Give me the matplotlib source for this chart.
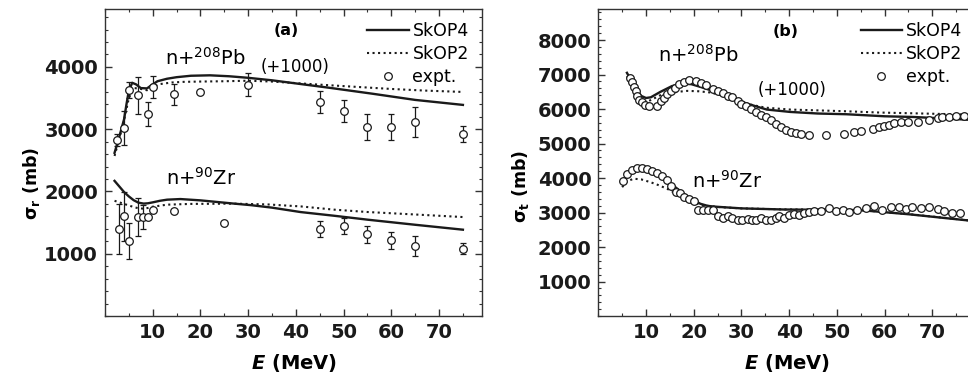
import numpy as np
import matplotlib
matplotlib.use("Agg")
import matplotlib.pyplot as plt
from matplotlib.ticker import MultipleLocator
from matplotlib.lines import Line2D

plt.rcParams['font.family'] = 'DejaVu Sans'
plt.rcParams['mathtext.fontset'] = 'custom'
plt.rcParams['mathtext.rm'] = 'DejaVu Sans'
plt.rcParams['mathtext.bf'] = 'DejaVu Sans:weight=bold'
plt.rcParams['mathtext.it'] = 'DejaVu Sans:style=italic:weight=bold'

PB_SHIFT = 1000  # Pb curves are shifted up by 1000 mb

# ---- (a) reaction cross section ----
a_pb_E = [2.5, 4, 5, 7, 9, 10, 14.5, 20, 30, 45, 50, 55, 60, 65, 75]
a_pb_sig = [1826, 2019, 2625, 2545, 2244, 2678, 2561, 2593, 2717, 2432, 2293, 2030, 2041, 2116, 1923]
a_pb_err = [100, 280, 130, 300, 190, 175, 170, 0, 190, 180, 180, 210, 210, 245, 130]

a_zr_E = [3, 4, 5, 7, 8, 9, 10, 14.5, 25, 45, 50, 55, 60, 65, 75]
a_zr_sig = [1395, 1600, 1209, 1590, 1590, 1590, 1710, 1690, 1497, 1402, 1444, 1310, 1214, 1128, 1080]
a_zr_err = [400, 390, 290, 300, 190, 0, 0, 0, 0, 130, 130, 135, 135, 160, 85]

a_pb4_E = [2, 3, 4, 4.5, 5, 5.7, 6.5, 7.5, 8.8, 10, 11, 13, 15, 18, 22, 26, 30, 35, 40, 47, 56, 65, 75]
a_pb4 = [1620, 1880, 2160, 2400, 2620, 2745, 2720, 2660, 2655, 2720, 2770, 2810, 2835, 2858, 2865,
         2850, 2825, 2785, 2735, 2665, 2570, 2470, 2390]
a_pb2_E = [2, 3, 4, 5, 6, 7, 8.8, 10, 11.6, 14, 16.5, 20, 25, 30, 35, 39, 45, 53, 60, 67, 75]
a_pb2 = [1570, 1850, 2150, 2500, 2660, 2655, 2625, 2680, 2725, 2750, 2760, 2765, 2770, 2778,
         2765, 2745, 2715, 2678, 2646, 2620, 2598]

a_zr4_E = [2, 3, 4, 5, 6, 7, 8.1, 9, 10, 11.5, 13, 15.8, 20, 27, 30.6, 35, 41, 48, 55, 65, 75]
a_zr4 = [2170, 2080, 1990, 1920, 1860, 1820, 1805, 1810, 1825, 1850, 1868, 1878, 1857, 1805,
         1780, 1740, 1669, 1610, 1547, 1465, 1386]
a_zr2_E = [2, 4, 6, 7, 8.1, 9, 10, 13, 18, 27, 34, 41, 48, 55, 65, 75]
a_zr2 = [1850, 1800, 1750, 1730, 1724, 1735, 1755, 1788, 1800, 1804, 1792, 1760, 1708, 1670, 1630, 1589]

# ---- (b) total cross section ----
b_pb_E = [6.6, 7.0, 7.4, 7.8, 8.2, 8.6, 9.1, 9.7, 10.6, 12.3, 13.1, 13.8, 14.5, 15.2, 16.1, 17.0,
          18.0, 19.1, 20.5, 21.5, 22.6, 24.0, 25.0, 26.1, 27.1, 28.1, 29.2, 29.9, 30.9, 32.0,
          33.0, 34.1, 35.1, 36.2, 37.2, 38.3, 39.3, 40.4, 41.4, 42.4, 44.2, 47.7, 51.5, 53.5,
          55.0, 57.5, 58.8, 59.9, 60.9, 62.0, 63.4, 64.8, 66.9, 69.3, 71.1, 72.1, 73.5, 74.9, 76.6]
b_pb_sig = [5890, 5770, 5640, 5520, 5380, 5260, 5190, 5130, 5080, 5100, 5238, 5333, 5429, 5524,
            5600, 5714, 5781, 5829, 5810, 5762, 5686, 5590, 5524, 5467, 5381, 5352, 5238, 5143,
            5095, 5000, 4924, 4829, 4781, 4686, 4571, 4476, 4381, 4333, 4305, 4286, 4238, 4257,
            4286, 4333, 4371, 4429, 4476, 4495, 4543, 4590, 4619, 4638, 4638, 4686, 4743, 4762,
            4781, 4790, 4810]

b_zr_E = [5.1, 6.0, 7.1, 8.1, 9.2, 10.2, 11.3, 12.3, 13.3, 14.4, 15.2, 16.3, 17.2, 18.0, 19.1,
          20.0, 20.8, 21.9, 22.9, 24.0, 25.0, 26.1, 27.1, 28.1, 29.2, 30.2, 31.3, 32.3, 33.0,
          34.1, 35.1, 36.2, 37.2, 37.9, 39.0, 40.0, 41.1, 42.1, 43.1, 44.2, 45.2, 46.6, 48.4,
          49.8, 51.2, 52.6, 54.3, 56.1, 57.8, 59.5, 61.3, 63.0, 64.4, 65.8, 67.6, 69.3, 71.1,
          72.5, 74.2, 75.8]
b_zr_sig = [3920, 4105, 4241, 4300, 4300, 4270, 4200, 4142, 4047, 3950, 3767, 3602, 3573, 3456,
            3379, 3340, 3068, 3087, 3087, 3087, 2893, 2854, 2893, 2845, 2796, 2796, 2825, 2796,
            2777, 2845, 2796, 2796, 2845, 2903, 2845, 2922, 2971, 2942, 2990, 3019, 3039, 3039,
            3117, 3039, 3087, 3019, 3068, 3136, 3184, 3068, 3165, 3165, 3097, 3165, 3117, 3165,
            3097, 3039, 3000, 3000]

b_pb4_E = [6, 7, 8, 9, 10, 11, 13, 15.4, 17.5, 19.5, 21.4, 25, 28.3, 31.1, 35.3, 40.2, 46, 52,
           60, 66, 72, 77.5]
b_pb4 = [6050, 5800, 5550, 5380, 5320, 5340, 5497, 5663, 5740, 5720, 5642, 5480, 5305, 5160,
         4985, 4916, 4870, 4849, 4790, 4770, 4730, 4690]
b_pb2_E = [6, 7, 8, 8.8, 9.5, 11, 13, 16.5, 18.6, 21, 23.5, 26, 28.3, 31.8, 35, 40.2, 45, 52,
           59, 68, 77.5]
b_pb2 = [5950, 5650, 5350, 5206, 5170, 5260, 5400, 5497, 5526, 5515, 5479, 5390, 5276, 5131,
         5040, 4985, 4965, 4935, 4898, 4870, 4840]

b_zr4_E = [5.5, 6.5, 8, 9, 10, 11.5, 13, 14.4, 16, 17.9, 19.5, 21.4, 23, 25, 30, 39, 47, 55, 65, 77.5]
b_zr4 = [3980, 4120, 4210, 4220, 4200, 4130, 4040, 3930, 3750, 3543, 3390, 3253, 3190, 3165,
         3120, 3087, 3080, 3068, 2950, 2770]
b_zr2_E = [5, 6, 7.4, 9, 10.9, 12.5, 14.4, 16, 17.9, 19.5, 21.4, 25, 30, 39, 47, 55, 65, 77.5]
b_zr2 = [3735, 3900, 3980, 3960, 3881, 3800, 3690, 3570, 3445, 3320, 3220, 3160, 3120, 3090,
         3085, 3070, 2955, 2775]

fig = plt.figure(figsize=(9.68, 3.77), dpi=100)
axA = fig.add_axes([105/968, 1-316/377, 377/968, 307/377])
axB = fig.add_axes([598.3/968, 1-316/377, 377/968, 307/377])

LC = '#1a1a1a'


def shift(vals):
    return np.array(vals) + PB_SHIFT


def style(ax, ylim, ylabel, lx, ly):
    ax.set_xlim(0, 79)
    ax.set_ylim(*ylim)
    ax.xaxis.set_minor_locator(MultipleLocator(5))
    ax.yaxis.set_minor_locator(MultipleLocator(200))
    ax.tick_params(which='both', direction='in', top=True, right=True, colors='#333333',
                   labelcolor='#1a1a1a')
    ax.tick_params(which='major', length=5, width=1, labelsize=14, pad=5)
    ax.tick_params(which='minor', length=2.5, width=0.8)
    xt = [10, 20, 30, 40, 50, 60, 70]
    yt = list(range(1000, int(ylim[1]) + 1, 1000))
    ax.set_xticks(xt)
    ax.set_yticks(yt)
    ax.set_xticklabels([str(v) for v in xt], fontweight='bold')
    ax.set_yticklabels([str(v) for v in yt], fontweight='bold')
    for s in ax.spines.values():
        s.set_linewidth(1.0)
        s.set_color('#333333')
    ax.set_xlabel(r'$E$ (MeV)', fontsize=14, fontweight='bold', labelpad=7)
    ax.set_ylabel(ylabel, fontsize=12.5, fontweight='bold')
    ax.yaxis.set_label_coords(lx, ly)


def expt(ax, E, v, err=None):
    if err is not None:
        ax.errorbar(E, v, yerr=err, fmt='none', ecolor=LC, elinewidth=0.9, capsize=2.5,
                    capthick=0.9, zorder=3)
    ax.plot(E, v, 'o', mfc='white', mec=LC, ms=5.5, mew=0.9, zorder=4)


# panel (a)
axA.plot(a_pb4_E, shift(a_pb4), '-', color=LC, lw=1.7, zorder=2)
axA.plot(a_pb2_E, shift(a_pb2), ':', color=LC, lw=1.5, zorder=2)
axA.plot(a_zr4_E, a_zr4, '-', color=LC, lw=1.7, zorder=2)
axA.plot(a_zr2_E, a_zr2, ':', color=LC, lw=1.5, zorder=2)
expt(axA, a_pb_E, shift(a_pb_sig), a_pb_err)
expt(axA, a_zr_E, a_zr_sig, a_zr_err)
style(axA, (0, 4930), r'σ$_\mathbf{r}$ (mb)', -0.167, 0.433)

# panel (b)
axB.plot(b_pb4_E, shift(b_pb4), '-', color=LC, lw=1.7, zorder=2)
axB.plot(b_pb2_E, shift(b_pb2), ':', color=LC, lw=1.5, zorder=2)
axB.plot(b_zr4_E, b_zr4, '-', color=LC, lw=1.7, zorder=2)
axB.plot(b_zr2_E, b_zr2, ':', color=LC, lw=1.5, zorder=2)
expt(axB, b_pb_E, shift(b_pb_sig))
expt(axB, b_zr_E, b_zr_sig)
style(axB, (0, 8900), r'σ$_\mathbf{t}$ (mb)', -0.179, 0.423)

handles = [Line2D([], [], color=LC, ls='-', lw=1.7),
           Line2D([], [], color=LC, ls=':', lw=1.5),
           Line2D([], [], color=LC, ls='none', marker='o', mfc='white', mec=LC, ms=5.5, mew=0.9)]
labels = ['SkOP4', 'SkOP2', 'expt.']
for ax, tag, pos in [(axA, '(a)', (0.48, 0.93)), (axB, '(b)', (0.497, 0.927))]:
    ax.legend(handles, labels, loc='upper right', bbox_to_anchor=(0.965, 0.958),
              frameon=False, fontsize=12.5, handlelength=2.4, handletextpad=0.2,
              labelspacing=0.3, borderpad=0, borderaxespad=0)
    ax.text(pos[0], pos[1], tag, transform=ax.transAxes, fontsize=11.5, fontweight='bold',
            ha='center', va='center')

axA.text(0.504, 0.812, '(+1000)', transform=axA.transAxes, fontsize=12, ha='center', va='center')
axA.text(0.267, 0.818, r'n+$^{\mathrm{208}}$Pb', transform=axA.transAxes, fontsize=14,
         ha='center', va='baseline')
axA.text(0.256, 0.427, r'n+$^{\mathrm{90}}$Zr', transform=axA.transAxes, fontsize=14,
         ha='center', va='baseline')
axB.text(0.514, 0.736, '(+1000)', transform=axB.transAxes, fontsize=12, ha='center', va='center')
axB.text(0.265, 0.828, r'n+$^{\mathrm{208}}$Pb', transform=axB.transAxes, fontsize=14,
         ha='center', va='baseline')
axB.text(0.342, 0.416, r'n+$^{\mathrm{90}}$Zr', transform=axB.transAxes, fontsize=14,
         ha='center', va='baseline')

fig.savefig('out.png', dpi=100)
